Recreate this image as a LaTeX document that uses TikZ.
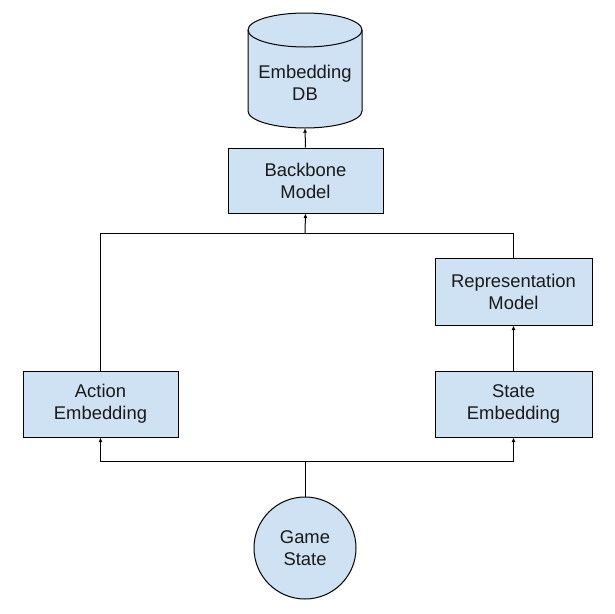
\documentclass[tikz,border=0pt]{standalone}
\usepackage{fontspec}
\setmainfont{Liberation Sans}
\usetikzlibrary{arrows.meta}
\definecolor{boxfill}{HTML}{CFE2F3}
\definecolor{txt}{HTML}{1A1A1A}
\begin{document}
\begin{tikzpicture}[x=1pt,y=-1pt,
  box/.style={draw=black, line width=1pt, fill=boxfill, align=center, inner sep=0pt,
    font=\fontsize{18.4}{22}\selectfont, text=txt},
  conn/.style={draw=black, line width=1pt},
  arr/.style={conn, -{Latex[length=4.5pt,width=4pt]}}]
\useasboundingbox[fill=white] (0,0) rectangle (614,614);
% cylinder
\filldraw[fill=boxfill, draw=black, line width=1pt]
  (248,30) -- (248,111) arc[start angle=180, end angle=360, x radius=57pt, y radius=17pt]
  -- (362,30) arc[start angle=0, end angle=180, x radius=57pt, y radius=17pt] -- cycle;
\draw[line width=1pt] (248,30) arc[start angle=180, end angle=360, x radius=57pt, y radius=17pt];
\node (db) at (305,83) [minimum width=114pt, minimum height=90pt, inner sep=0pt, align=center,
  font=\fontsize{18.4}{22}\selectfont, text=txt] {Embedding\\DB};
% boxes
\node[box, minimum width=155pt, minimum height=65pt] (bb) at (305.5,180.5) {Backbone\\Model};
\node[box, minimum width=157pt, minimum height=67pt] (rm) at (513.5,291.5) {Representation\\Model};
\node[box, minimum width=155pt, minimum height=66pt] (ae) at (100.5,404) {Action\\Embedding};
\node[box, minimum width=157pt, minimum height=66pt] (se) at (513.5,404) {State\\Embedding};
\node[box, circle, minimum size=102pt] (gs) at (305,548) {Game\\State};
% junctions
\coordinate (j1) at (305,461);
\coordinate (j2) at (305,233);
% connectors
\draw[conn] (gs.north) -- (j1);
\draw[arr] (j1) -| (ae.south);
\draw[arr] (j1) -| (se.south);
\draw[arr] (se.north) -- (rm.south);
\draw[conn] (ae.north) |- (j2);
\draw[conn] (rm.north) |- (j2);
\draw[arr] (j2) -- (bb.south);
\draw[arr] (bb.north) -- (db.south);
\end{tikzpicture}
\end{document}
